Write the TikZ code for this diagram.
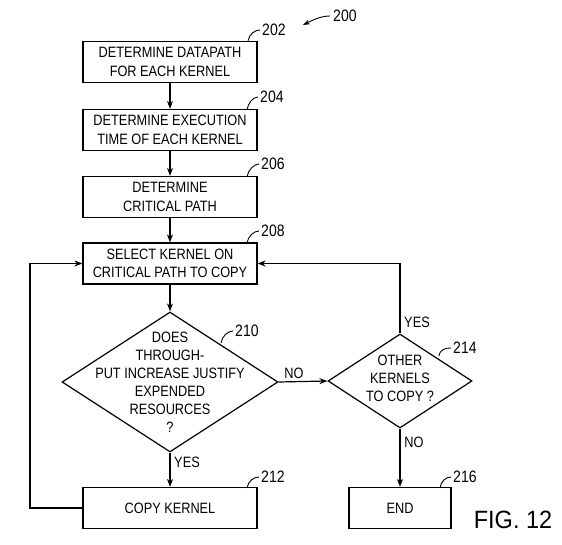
\documentclass[tikz,border=0pt]{standalone}
\usepackage{fontspec}
\setmainfont{Liberation Sans}[FakeStretch=0.85]
\newfontfamily\figfont{Liberation Sans}[FakeStretch=0.94]
\usetikzlibrary{arrows.meta,shapes.geometric}
\begin{document}
\begin{tikzpicture}[x=1pt,y=-1pt,
 box/.style={draw,line width=1.2pt,minimum width=174pt,minimum height=41pt,inner sep=0pt,align=center,font=\fontsize{15}{18.5}\selectfont},
 dia/.style={draw,line width=1.2pt,diamond,inner sep=0pt},
 dtext/.style={align=center,inner sep=0pt,font=\fontsize{15}{18}\selectfont},
 arr/.style={line width=1.2pt,-{Stealth[length=8pt,width=6pt]}},
 num/.style={font=\fontsize{16.5}{16.5}\selectfont,inner sep=0pt,anchor=west},
 lbl/.style={font=\fontsize{15}{15}\selectfont,inner sep=0pt},
 lead/.style={line width=0.9pt}]
\useasboundingbox (0,0) rectangle (562,545);

% boxes
\node[box] (n202) at (170,62) {DETERMINE DATAPATH\\FOR EACH KERNEL};
\node[box] (n204) at (170,130) {DETERMINE EXECUTION\\TIME OF EACH KERNEL};
\node[box] (n206) at (170,197) {DETERMINE\\CRITICAL PATH};
\node[box] (n208) at (170,263.5) {SELECT KERNEL ON\\CRITICAL PATH TO COPY};
\node[dia,minimum width=216pt,minimum height=140pt] (n210) at (170,382) {};
\node[dtext] (t210) at (170,382) {DOES\\THROUGH-\\PUT INCREASE JUSTIFY\\EXPENDED\\RESOURCES\\?};
\node[box] (n212) at (170,508) {COPY KERNEL};
\node[dia,minimum width=144pt,minimum height=94pt] (n214) at (400,381) {};
\node[dtext] (t214) at (400,378) {OTHER\\KERNELS\\TO COPY ?};
\node[box,minimum width=102pt] (n216) at (400,508) {END};

% connectors
\draw[arr] (n202) -- (n204);
\draw[arr] (n204) -- (n206);
\draw[arr] (n206) -- (n208);
\draw[arr] (n208) -- (n210);
\draw[arr] (n210) -- (n212);
\draw[arr] (n210.east) -- (n214.west);
\draw[arr] (n214) -- (n216);
\coordinate (lp) at (30,508);
\draw[arr] (n212.west) -- (lp) |- (n208.west);
\draw[arr] (n214.north) |- (n208.east);

% branch labels
\node[lbl] (y210) at (187,462) {YES};
\node[lbl] (no210) at (294,373) {NO};
\node[lbl] (y214) at (417,322) {YES};
\node[lbl] (no214) at (414,442) {NO};

% reference numbers
\node[num] (r202) at (262,30) {202};
\node[num] (r204) at (260,97) {204};
\node[num] (r206) at (261,164) {206};
\node[num] (r208) at (261,231) {208};
\node[num] (r210) at (235,331) {210};
\node[num] (r212) at (261,477) {212};
\node[num] (r214) at (453,348) {214};
\node[num] (r216) at (453,477) {216};
\node[num] (r200) at (333,16) {200};

\coordinate (s202) at (248,41);
\coordinate (s204) at (247,110);
\coordinate (s206) at (247,177);
\coordinate (s208) at (247,243);
\coordinate (s210) at (221,343);
\coordinate (s212) at (247,488);
\coordinate (s214) at (439,356);
\coordinate (s216) at (440,488);
\foreach \k in {202,204,206,208,210,212,214,216}{
  \draw[lead] (s\k) .. controls +(1,-7) and +(-5,0) .. ([xshift=-2pt]r\k.west);
}
\coordinate (a200) at (303,25);
\draw[lead,-{Stealth[length=7pt,width=5pt]}] ([xshift=-3pt]r200.west) .. controls +(-10,0) and +(8,-4) .. (a200);

\node[font=\figfont\fontsize{25}{25}\selectfont,inner sep=0pt] (fig) at (513,520) {FIG. 12};
\end{tikzpicture}
\end{document}
